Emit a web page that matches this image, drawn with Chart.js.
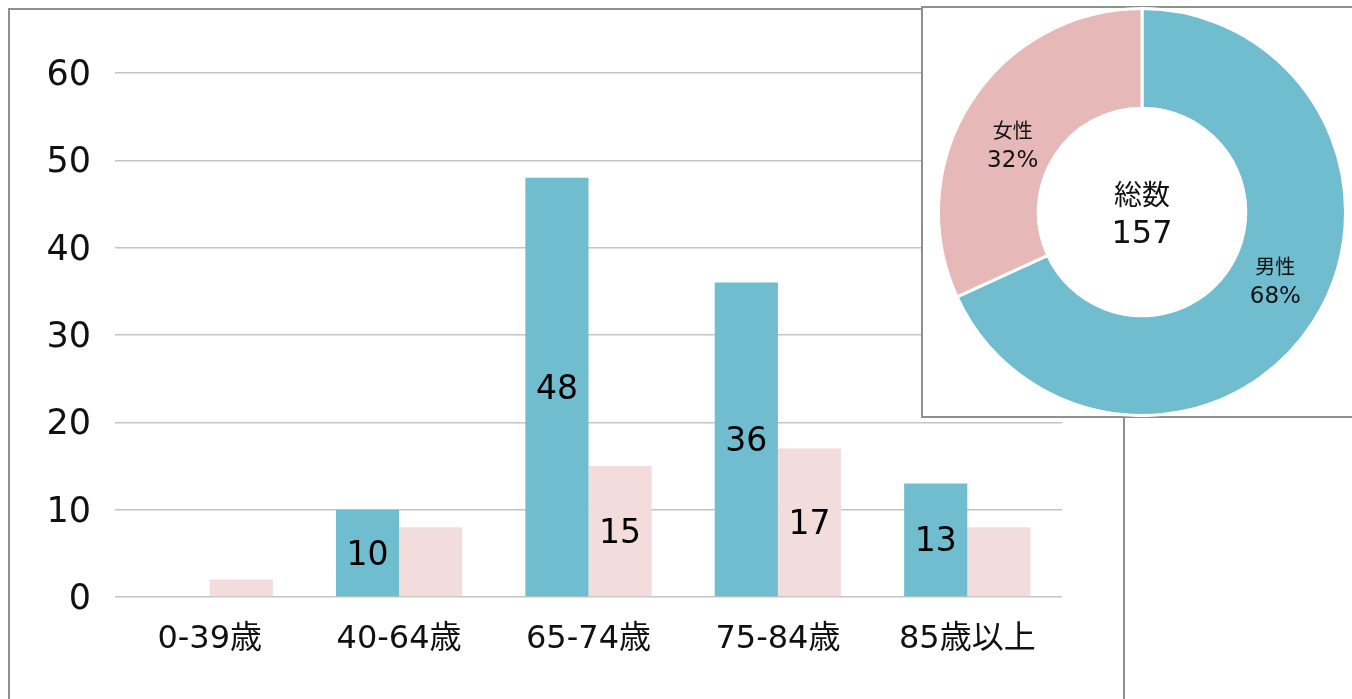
<!DOCTYPE html>
<html>
<head>
<meta charset="utf-8">
<script src="https://cdn.jsdelivr.net/npm/chart.js@4.4.0/dist/chart.umd.min.js"></script>
<style>
  body { margin: 0; background: #fff; width: 1352px; height: 699px; overflow: hidden; position: relative; }
  #barBox { position: absolute; left: 8px; top: 8px; width: 1113px; height: 700px; border: 2px solid #8f8f8f; }
  #barChart { position: absolute; left: 0; top: 0; }
  #pieBox { position: absolute; left: 921px; top: 6px; width: 440px; height: 408px; border: 2px solid #8f8f8f; background: #fff; }
  #pieChart { position: absolute; left: 937px; top: 7px; }
</style>
</head>
<body>
<div id="barBox"><canvas id="barChart" width="1113" height="690"></canvas></div>
<div id="pieBox"></div>
<canvas id="pieChart" width="410" height="410"></canvas>
<script>
const FONT = "'DejaVu Sans', 'Noto Sans CJK JP', sans-serif";

// data
const ageGroups = ["0-39歳", "40-64歳", "65-74歳", "75-84歳", "85歳以上"];
const maleCounts = [0, 10, 48, 36, 13];
const femaleCounts = [2, 8, 15, 17, 8];
const yTicks = [0, 10, 20, 30, 40, 50, 60];

const genderLabels = ["男性", "女性"];
const genderTotals = [107, 50];
const totalCount = 157;

const blue = "#70bdd0";
const pinkBar = "#f2dcdc";
const pinkPie = "#e6b8b7";

// value labels inside bars (only the big ones are labelled)
const barLabels = {
  id: "barLabels",
  afterDatasetsDraw(chart) {
    const ctx = chart.ctx;
    ctx.save();
    ctx.font = "33px " + FONT;
    ctx.fillStyle = "#000";
    ctx.textAlign = "center";
    ctx.textBaseline = "middle";
    chart.data.datasets.forEach((ds, i) => {
      chart.getDatasetMeta(i).data.forEach((bar, j) => {
        const v = ds.data[j];
        if (v < 10) return;
        ctx.fillText(String(v), bar.x, (bar.y + bar.base) / 2 + 3);
      });
    });
    ctx.restore();
  },
};

new Chart(document.getElementById("barChart"), {
  type: "bar",
  data: {
    labels: ageGroups,
    datasets: [
      { label: "男性", data: maleCounts, backgroundColor: blue },
      { label: "女性", data: femaleCounts, backgroundColor: pinkBar },
    ],
  },
  options: {
    responsive: false,
    animation: false,
    layout: { padding: { top: 63, right: 61, left: 0, bottom: 0 } },
    datasets: { bar: { barPercentage: 1, categoryPercentage: 0.667 } },
    scales: {
      y: {
        min: 0,
        max: 60,
        afterBuildTicks: (scale) => { scale.ticks = yTicks.map((v) => ({ value: v })); },
        afterFit: (scale) => { scale.width = 105; },
        ticks: { color: "#111", padding: 24, labelOffset: 3, font: { size: 35, family: FONT } },
        grid: { color: "#c4c4c4", lineWidth: 1.5, drawTicks: false },
        border: { display: false },
      },
      x: {
        afterFit: (scale) => { scale.height = 103; },
        ticks: { color: "#111", padding: 15, font: { size: 32, family: FONT } },
        grid: { display: false },
        border: { display: false },
      },
    },
    plugins: { legend: { display: false }, tooltip: { enabled: false } },
  },
  plugins: [barLabels],
});

// ring labels and centre text
const labelShift = [[4, -12], [0, 18]];
const pieLabels = {
  id: "pieLabels",
  afterDatasetsDraw(chart) {
    const ctx = chart.ctx;
    const meta = chart.getDatasetMeta(0);
    ctx.save();
    ctx.fillStyle = "#111";
    ctx.textAlign = "center";
    ctx.textBaseline = "middle";
    meta.data.forEach((arc, i) => {
      const pos = arc.tooltipPosition();
      const x = pos.x + labelShift[i][0], y = pos.y + labelShift[i][1];
      const pct = Math.round((genderTotals[i] / totalCount) * 100) + "%";
      ctx.font = "20px " + FONT;
      ctx.fillText(genderLabels[i], x, y - 14);
      ctx.font = "23px " + FONT;
      ctx.fillText(pct, x, y + 14);
    });
    const cx = meta.data[0].x, cy = meta.data[0].y;
    ctx.font = "28px " + FONT;
    ctx.fillText("総数", cx, cy - 14);
    ctx.font = "32px " + FONT;
    ctx.fillText(String(totalCount), cx, cy + 23);
    ctx.restore();
  },
};

new Chart(document.getElementById("pieChart"), {
  type: "doughnut",
  data: {
    labels: genderLabels,
    datasets: [
      {
        data: genderTotals,
        backgroundColor: [blue, pinkPie],
        borderColor: "#fff",
        borderWidth: 3,
      },
    ],
  },
  options: {
    responsive: false,
    animation: false,
    cutout: "51%",
    layout: { padding: 0 },
    plugins: { legend: { display: false }, tooltip: { enabled: false } },
  },
  plugins: [pieLabels],
});
</script>
</body>
</html>
